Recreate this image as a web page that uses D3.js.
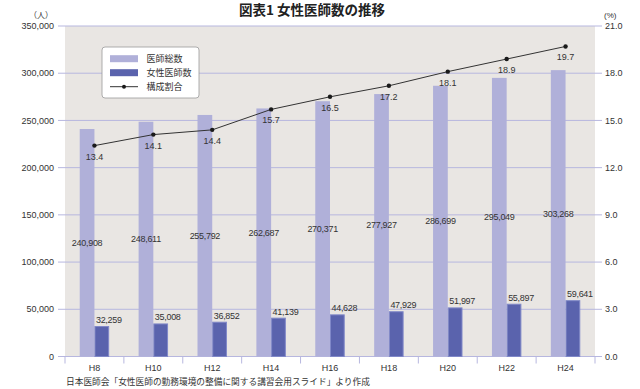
<!DOCTYPE html>
<html><head><meta charset="utf-8">
<script src="https://cdn.jsdelivr.net/npm/d3@7"></script>
<style>
body{margin:0;background:#fff;}
svg text{font-family:"Liberation Sans","Noto Sans CJK JP",sans-serif;}
</style></head>
<body><svg id="c" width="640" height="389"></svg>
<script>
const categories = ["H8","H10","H12","H14","H16","H18","H20","H22","H24"];
const totalDoctors = [240908,248611,255792,262687,270371,277927,286699,295049,303268];
const femaleDoctors = [32259,35008,36852,41139,44628,47929,51997,55897,59641];
const femaleRatio = [13.4,14.1,14.4,15.7,16.5,17.2,18.1,18.9,19.7];
const leftTicks = [0,50000,100000,150000,200000,250000,300000,350000];
const rightTicks = [0,3,6,9,12,15,18,21];
const seriesNames = ["医師総数","女性医師数","構成割合"];

const svg = d3.select("#c");
const L = 65, R = 595, T = 26, B = 356.5;
const cjk = '"Noto Sans CJK JP",sans-serif';

const x = d3.scaleBand().domain(categories).range([L, R]);
const y = d3.scaleLinear().domain([0,350000]).range([B, T]);
const y2 = d3.scaleLinear().domain([0,21]).range([B, T]);
const bw = x.bandwidth()*0.25;
const fmt = d3.format(",");

// background
svg.append("rect").attr("x",L).attr("y",T).attr("width",R-L).attr("height",B-T).attr("fill","#e9e6e3");

// gridlines
svg.append("g").selectAll("line").data(leftTicks).join("line")
  .attr("x1",L-7).attr("x2",R+7).attr("y1",d=>y(d)).attr("y2",d=>y(d))
  .attr("stroke","#b7b7df").attr("stroke-width",1);

// axis labels
svg.append("g").selectAll("text").data(leftTicks).join("text")
  .attr("x",54).attr("y",d=>y(d)+3.2).attr("text-anchor","end")
  .attr("font-size",9).attr("fill","#333").text(d=>fmt(d));
svg.append("g").selectAll("text").data(rightTicks).join("text")
  .attr("x",605).attr("y",d=>y2(d)+3.2).attr("text-anchor","start")
  .attr("font-size",9).attr("fill","#333").text(d=>d.toFixed(1));
svg.append("text").attr("x",53).attr("y",18).attr("text-anchor","end")
  .attr("font-size",8).attr("fill","#333").style("font-family",cjk).text("（人）");
svg.append("text").attr("x",604).attr("y",18).attr("text-anchor","start")
  .attr("font-size",8).attr("fill","#333").text("(%)");

// x axis ticks
const xb = svg.append("g");
const bounds = categories.map(c=>x(c)).concat([R]);
xb.selectAll("line").data(bounds).join("line")
  .attr("x1",d=>d).attr("x2",d=>d).attr("y1",B).attr("y2",B+7)
  .attr("stroke","#b7b7df");
xb.selectAll("text").data(categories).join("text")
  .attr("x",d=>x(d)+x.bandwidth()/2).attr("y",B+14.5).attr("text-anchor","middle")
  .attr("font-size",9).attr("fill","#333").text(d=>d);

// bars
const g = svg.append("g");
g.selectAll("rect.t").data(categories).join("rect").attr("class","t")
  .attr("x",d=>x(d)+x.bandwidth()/2-bw).attr("width",bw)
  .attr("y",(d,i)=>y(totalDoctors[i])).attr("height",(d,i)=>B-y(totalDoctors[i]))
  .attr("fill","#b0b0d9");
g.selectAll("rect.f").data(categories).join("rect").attr("class","f")
  .attr("x",d=>x(d)+x.bandwidth()/2+0.5).attr("width",bw-1)
  .attr("y",(d,i)=>y(femaleDoctors[i])+0.5).attr("height",(d,i)=>B-y(femaleDoctors[i])-0.5)
  .attr("fill","#5a63ad").attr("stroke","#8088c8").attr("stroke-width",1);

// value labels
g.selectAll("text.t").data(categories).join("text").attr("class","t")
  .attr("x",d=>x(d)+x.bandwidth()/2-bw/2).attr("y",(d,i)=>y(totalDoctors[i]/2)+3.2)
  .attr("text-anchor","middle").attr("font-size",9).attr("fill","#333")
  .attr("letter-spacing",-0.3).text((d,i)=>fmt(totalDoctors[i]));
g.selectAll("text.f").data(categories).join("text").attr("class","f")
  .attr("x",d=>x(d)+x.bandwidth()/2+1.5).attr("y",(d,i)=>y(femaleDoctors[i])-3)
  .attr("text-anchor","start").attr("font-size",9).attr("fill","#333")
  .attr("letter-spacing",-0.3).text((d,i)=>fmt(femaleDoctors[i]));

// line
const line = d3.line().x((d,i)=>x(categories[i])+x.bandwidth()/2).y(d=>y2(d));
svg.append("path").datum(femaleRatio).attr("d",line).attr("fill","none")
  .attr("stroke","#333").attr("stroke-width",1);
svg.append("g").selectAll("circle").data(femaleRatio).join("circle")
  .attr("cx",(d,i)=>x(categories[i])+x.bandwidth()/2).attr("cy",d=>y2(d)).attr("r",2.2).attr("fill","#1a1a1a");
svg.append("g").selectAll("text").data(femaleRatio).join("text")
  .attr("x",(d,i)=>x(categories[i])+x.bandwidth()/2).attr("y",d=>y2(d)+14)
  .attr("text-anchor","middle").attr("font-size",9).attr("fill","#333").text(d=>d.toFixed(1));

// legend
const lg = svg.append("g");
lg.append("rect").attr("x",102).attr("y",47).attr("width",97).attr("height",51).attr("rx",3)
  .attr("fill","#fff").attr("stroke","#999").attr("stroke-width",0.8);
const ly = [58.7,72.7,86.7];
lg.append("rect").attr("x",110).attr("y",ly[0]-3.5).attr("width",28).attr("height",7).attr("fill","#b0b0d9");
lg.append("rect").attr("x",110).attr("y",ly[1]-3.5).attr("width",28).attr("height",7).attr("fill","#5a63ad");
lg.append("line").attr("x1",110).attr("x2",138).attr("y1",ly[2]).attr("y2",ly[2]).attr("stroke","#333");
lg.append("circle").attr("cx",124).attr("cy",ly[2]).attr("r",2).attr("fill","#1a1a1a");
lg.selectAll("text").data(seriesNames).join("text")
  .attr("x",146.5).attr("y",(d,i)=>ly[i]+3.3).attr("font-size",9).attr("fill","#333")
  .style("font-family",cjk).text(d=>d);

// title
svg.append("text").attr("x",312).attr("y",15).attr("text-anchor","middle")
  .attr("font-size",13.5).attr("font-weight","bold").attr("fill","#222")
  .style("font-family",cjk).text("図表1 女性医師数の推移");

// footnote
svg.append("text").attr("x",66).attr("y",385).attr("font-size",8.7).attr("fill","#333")
  .style("font-family",cjk).text("日本医師会「女性医師の勤務環境の整備に関する講習会用スライド」より作成");
</script></body></html>
